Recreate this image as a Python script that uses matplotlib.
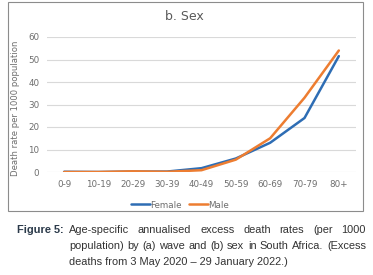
import numpy as np
import matplotlib
matplotlib.use("Agg")
import matplotlib.pyplot as plt
from matplotlib.patches import Rectangle

# data
age_groups = ["0-9", "10-19", "20-29", "30-39", "40-49", "50-59", "60-69", "70-79", "80+"]
female = [0.1, 0.0, 0.2, 0.2, 1.7, 6.0, 13.0, 24.0, 51.5]
male = [0.0, 0.0, 0.3, 0.1, 0.8, 5.5, 15.0, 33.0, 54.0]
yticks = [0, 10, 20, 30, 40, 50, 60]

caption_lines = [
    "Age-specific annualised excess death rates (per 1000",
    "population) by (a) wave and (b) sex in South Africa. (Excess",
    "deaths from 3 May 2020 \u2013 29 January 2022.)",
]

cap_font = "Liberation Sans"

W, H = 373, 275
fig = plt.figure(figsize=(W / 100, H / 100), dpi=100)

def px(x, y):
    return x / W, 1 - y / H

# chart frame
fig.patches.append(Rectangle(px(8, 211), 355 / W, 209 / H, transform=fig.transFigure,
                             fill=False, edgecolor="#8c8c8c", linewidth=0.8))

l, b = px(47, 172)
ax = fig.add_axes([l, b, 309 / W, 135 / H])
x = np.arange(len(age_groups))
ax.plot(x, female, color="#2E6DB4", lw=1.8, label="Female", solid_capstyle="round")
ax.plot(x, male, color="#ED7D31", lw=1.8, label="Male", solid_capstyle="round")
ax.set_xlim(-0.5, len(age_groups) - 0.5)
ax.set_ylim(0, 60)
ax.set_yticks(yticks)
ax.set_xticks(x)
ax.set_xticklabels(age_groups)
ax.tick_params(length=0, labelsize=6.3, labelcolor="#6e6e6e", pad=6)
ax.tick_params(axis="y", pad=5.5)
ax.grid(axis="y", color="#d9d9d9", lw=0.8)
ax.set_axisbelow(True)
for s in ax.spines.values():
    s.set_visible(False)
ax.set_ylabel("Death rate per 1000 population", fontsize=6.1, color="#6e6e6e")
ax.yaxis.set_label_coords((20 - 47) / 309, (172 - 108) / 135)

fig.text(*px(184, 17), "b. Sex", ha="center", va="center", fontsize=9, color="#595959")
fig.legend(loc="center", bbox_to_anchor=px(180, 205), ncol=2, frameon=False,
           fontsize=6.3, labelcolor="#6e6e6e", handlelength=2.2, handletextpad=0.0,
           columnspacing=0.8)

# caption, justified like the source
renderer = fig.canvas.get_renderer()
x0, x1 = 69, 366
probe = fig.text(0, 0, caption_lines[1], fontsize=9, family=cap_font)
natural = probe.get_window_extent(renderer).width
probe.remove()
cap_size = 9 * (x1 - x0 - 6) / natural

fig.text(*px(17, 230), "Figure 5:", ha="left", va="center", fontsize=cap_size,
         fontweight="bold", color="#2b3a4a", family=cap_font)

for i, line in enumerate(caption_lines):
    yy = 230 + 16 * i
    words = line.split(" ")
    if i == len(caption_lines) - 1:
        fig.text(*px(x0, yy), line, ha="left", va="center", fontsize=cap_size,
                 color="#333333", family=cap_font)
        continue
    texts = [fig.text(0, 0, w_, fontsize=cap_size, color="#333333", family=cap_font,
                      va="center", ha="left") for w_ in words]
    widths = [t.get_window_extent(renderer).width for t in texts]
    gap = ((x1 - x0) - sum(widths)) / (len(words) - 1)
    cx = x0
    for t, wd in zip(texts, widths):
        t.set_position(px(cx, yy))
        cx += wd + gap

fig.savefig("out.png", dpi=100)
